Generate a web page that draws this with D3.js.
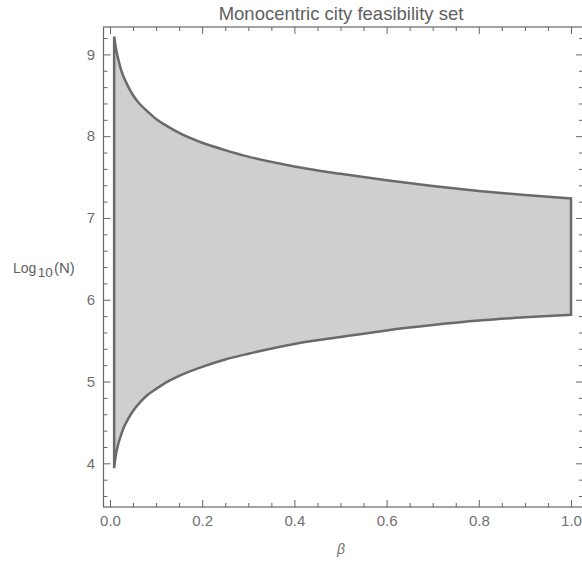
<!DOCTYPE html>
<html>
<head>
<meta charset="utf-8">
<script src="https://cdn.jsdelivr.net/npm/d3@7"></script>
<style>
  body { margin: 0; background: #fff; }
  svg { display: block; font-family: "Liberation Sans", Arial, sans-serif; }
  .tick text { fill: #707070; font-size: 15px; }
  .tick line { stroke: #666; }
</style>
</head>
<body>
<div id="chart"></div>
<script>
const width = 582;
const height = 562;
const frameLeft = 103.5;
const frameRight = 583;
const frameTop = 27;
const frameBottom = 507;

// beta along the boundary, log10(N) of the upper and lower edge
const beta  = [0.009, 0.011, 0.014, 0.018, 0.023, 0.03, 0.04, 0.05, 0.065, 0.08, 0.10, 0.125, 0.15, 0.2, 0.25, 0.3, 0.4, 0.5, 0.6, 0.7, 0.8, 0.9, 1.0];
const upper = [9.22, 9.14, 9.04, 8.94, 8.83, 8.72, 8.60, 8.50, 8.39, 8.31, 8.21, 8.12, 8.04, 7.92, 7.83, 7.75, 7.63, 7.54, 7.46, 7.39, 7.33, 7.28, 7.24];
const lower = [3.94, 4.04, 4.14, 4.24, 4.33, 4.44, 4.55, 4.64, 4.745, 4.83, 4.91, 5.00, 5.07, 5.18, 5.27, 5.34, 5.46, 5.545, 5.625, 5.69, 5.745, 5.785, 5.815];

const xTicks = [0, 0.2, 0.4, 0.6, 0.8, 1.0];
const xMinor = [0.05, 0.1, 0.15, 0.25, 0.3, 0.35, 0.45, 0.5, 0.55, 0.65, 0.7, 0.75, 0.85, 0.9, 0.95];
const yTicks = [4, 5, 6, 7, 8, 9];
const yMinor = [3.6, 3.8, 4.2, 4.4, 4.6, 4.8, 5.2, 5.4, 5.6, 5.8, 6.2, 6.4, 6.6, 6.8,
                7.2, 7.4, 7.6, 7.8, 8.2, 8.4, 8.6, 8.8, 9.2];

const svg = d3.select("#chart").append("svg")
    .attr("width", width)
    .attr("height", height);

const x = d3.scaleLinear().domain([0, 1]).range([110, 571]);
const y = d3.scaleLinear().domain([3.466, 9.335]).range([frameBottom, frameTop]);

const rows = beta.map((b, i) => ({ b: b, hi: upper[i], lo: lower[i] }));

const area = d3.area()
    .x(d => x(d.b))
    .y0(d => y(d.lo))
    .y1(d => y(d.hi))
    .curve(d3.curveMonotoneX);

svg.append("path")
    .datum(rows)
    .attr("d", area)
    .attr("fill", "#cfcfcf")
    .attr("stroke", "#6a6a6a")
    .attr("stroke-width", 2.5)
    .attr("stroke-linejoin", "miter");

function addAxis(axis, transform, vals, size, labels) {
    const g = svg.append("g")
        .attr("transform", transform)
        .call(axis.tickValues(vals).tickSize(-size).tickPadding(labels ? 8 : 0)
            .tickFormat(labels ? d3.format(labels) : ""));
    g.select(".domain").remove();
    return g;
}

// bottom + top
addAxis(d3.axisBottom(x), `translate(0,${frameBottom})`, xTicks, 7, ".1f");
addAxis(d3.axisBottom(x), `translate(0,${frameBottom})`, xMinor, 4, null);
addAxis(d3.axisTop(x), `translate(0,${frameTop})`, xTicks, 7, null);
addAxis(d3.axisTop(x), `translate(0,${frameTop})`, xMinor, 4, null);

// left + right
addAxis(d3.axisLeft(y), `translate(${frameLeft},0)`, yTicks, 7, "d")
    .selectAll("text").attr("dx", "-0.5px");
addAxis(d3.axisLeft(y), `translate(${frameLeft},0)`, yMinor, 4, null);
addAxis(d3.axisRight(y), `translate(${frameRight},0)`, yTicks, 7, null);
addAxis(d3.axisRight(y), `translate(${frameRight},0)`, yMinor, 4, null);

svg.append("rect")
    .attr("x", frameLeft)
    .attr("y", frameTop)
    .attr("width", frameRight - frameLeft)
    .attr("height", frameBottom - frameTop)
    .attr("fill", "none")
    .attr("stroke", "#666")
    .attr("stroke-width", 1.2);

svg.append("text")
    .attr("x", 341)
    .attr("y", 20)
    .attr("text-anchor", "middle")
    .style("font-size", "18.5px")
    .style("fill", "#606060")
    .text("Monocentric city feasibility set");

svg.append("text")
    .attr("x", 341)
    .attr("y", 554)
    .attr("text-anchor", "middle")
    .style("font-size", "14px")
    .style("font-style", "italic")
    .style("fill", "#707070")
    .text("β");

const yl = svg.append("text")
    .attr("x", 13)
    .attr("y", 273)
    .style("font-size", "14px")
    .style("fill", "#606060");
yl.append("tspan").text("Log");
yl.append("tspan").attr("dx", 1.5).attr("dy", 4).style("font-size", "13.5px").text("10");
yl.append("tspan").attr("dx", 1).attr("dy", -4).style("font-size", "15px").text("(N)");
</script>
</body>
</html>
